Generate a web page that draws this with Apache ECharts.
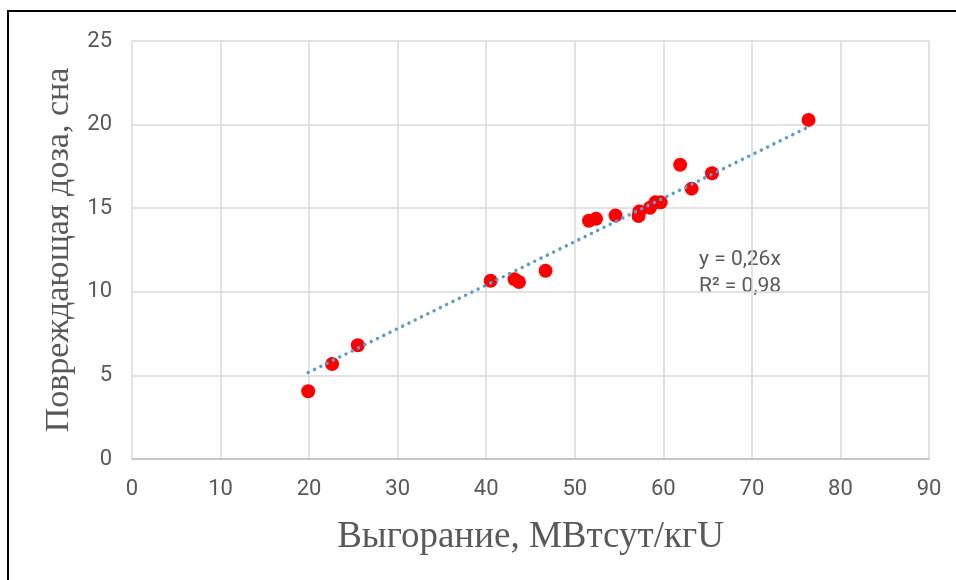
<!DOCTYPE html>
<html>
<head>
<meta charset="utf-8">
<script src="https://cdn.jsdelivr.net/npm/echarts@6/dist/echarts.min.js"></script>
<style>
  html, body { margin: 0; padding: 0; background: #fff; }
  #chart { width: 956px; height: 580px; }
</style>
</head>
<body>
<div id="chart"></div>
<script>
// Burnup (MWd/kgU) vs damage dose (dpa)
const burnup = [19.9, 22.6, 25.5, 40.5, 43.2, 43.7, 46.7, 51.6, 52.4, 54.6, 57.2, 57.3, 58.5, 59.1, 59.7, 61.9, 63.2, 65.5, 76.4];
const dose   = [4.05, 5.68, 6.8, 10.66, 10.75, 10.59, 11.26, 14.25, 14.37, 14.57, 14.53, 14.8, 15.03, 15.35, 15.35, 17.6, 16.17, 17.09, 20.28];

// Linear trend through the origin
const slope = 0.26;
const r2 = 0.98;

const xTicks = { min: 0, max: 90, interval: 10 };
const yTicks = { min: 0, max: 25, interval: 5 };

const xTitle = 'Выгорание, МВтсут/кгU';
const yTitle = 'Повреждающая доза, сна';

const points = burnup.map((x, i) => [x, dose[i]]);
const xMin = Math.min(...burnup), xMax = Math.max(...burnup);
const trend = [[xMin, slope * xMin], [xMax, slope * xMax]];

const fmt = v => String(v).replace('.', ',');

const chart = echarts.init(document.getElementById('chart'), null, { renderer: 'canvas' });
const tickFont = '"Roboto", sans-serif';
const serif = '"Liberation Serif", "DejaVu Serif", serif';

chart.setOption({
  animation: false,
  backgroundColor: '#fff',
  grid: { left: 132, right: 27, top: 41, bottom: 121, containLabel: false },
  xAxis: {
    type: 'value',
    min: xTicks.min, max: xTicks.max, interval: xTicks.interval,
    name: xTitle,
    nameLocation: 'middle',
    nameGap: 60,
    nameTextStyle: { fontFamily: serif, fontSize: 37, color: '#595959' },
    axisLine: { show: true, lineStyle: { color: '#bfbfbf', width: 1.5 } },
    axisTick: { show: false },
    axisLabel: { fontFamily: tickFont, fontSize: 22, color: '#595959', margin: 19 },
    splitLine: { show: true, lineStyle: { color: '#d9d9d9', width: 1.5 } }
  },
  yAxis: {
    type: 'value',
    min: yTicks.min, max: yTicks.max, interval: yTicks.interval,
    name: yTitle,
    nameLocation: 'middle',
    nameGap: 53,
    nameRotate: 90,
    nameTextStyle: { fontFamily: serif, fontSize: 34, color: '#595959' },
    axisLine: { show: false },
    axisTick: { show: false },
    axisLabel: { fontFamily: tickFont, fontSize: 22, color: '#595959', margin: 20 },
    splitLine: { show: true, lineStyle: { color: '#d9d9d9', width: 1.5 } }
  },
  series: [
    {
      type: 'line',
      data: trend,
      showSymbol: false,
      silent: true,
      z: 3,
      lineStyle: { color: '#5b9bd5', width: 3.5, type: [0.01, 7], cap: 'round' }
    },
    {
      type: 'scatter',
      data: points,
      symbol: 'circle',
      symbolSize: 14,
      z: 2,
      itemStyle: { color: '#ff0000', opacity: 1 }
    }
  ],
  graphic: [
    {
      type: 'text',
      left: 699, top: 246,
      style: {
        text: 'y = ' + fmt(slope) + 'x\nR² = ' + fmt(r2),
        font: '21px "Roboto", sans-serif',
        fill: '#595959',
        lineHeight: 27
      }
    },
    {
      type: 'rect',
      silent: true,
      shape: { x: 8, y: 11, width: 1000, height: 1000 },
      style: { fill: 'none', stroke: '#000', lineWidth: 2 }
    }
  ]
});
</script>
</body>
</html>
